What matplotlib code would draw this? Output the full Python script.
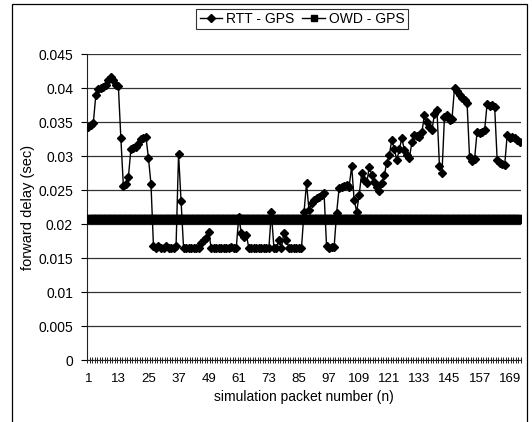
import numpy as np
import matplotlib
matplotlib.use("Agg")
import matplotlib.pyplot as plt
from matplotlib.patches import Rectangle
from matplotlib.lines import Line2D

plt.rcParams['font.family'] = ['Liberation Sans', 'DejaVu Sans']

# RTT - GPS forward delay (sec), packets 1..173
rtt_gps = [
    0.0343, 0.0345, 0.0348, 0.0389, 0.0398, 0.0400, 0.0402, 0.0405, 0.0412, 0.0416,
    0.0412, 0.0405, 0.0403, 0.0326, 0.0256, 0.0259, 0.0269, 0.0310, 0.0312, 0.0313,
    0.0318, 0.0325, 0.0327, 0.0328, 0.0297, 0.0259, 0.0167, 0.0164, 0.0167, 0.0164,
    0.0164, 0.0168, 0.0165, 0.0164, 0.0164, 0.0168, 0.0303, 0.0234, 0.0164, 0.0164,
    0.0164, 0.0164, 0.0164, 0.0164, 0.0164, 0.0172, 0.0176, 0.0180, 0.0188, 0.0165,
    0.0165, 0.0165, 0.0165, 0.0165, 0.0165, 0.0165, 0.0165, 0.0166, 0.0165, 0.0165,
    0.0211, 0.0187, 0.0181, 0.0184, 0.0165, 0.0165, 0.0165, 0.0165, 0.0165, 0.0165,
    0.0165, 0.0165, 0.0165, 0.0217, 0.0165, 0.0165, 0.0176, 0.0165, 0.0187, 0.0176,
    0.0165, 0.0165, 0.0165, 0.0165, 0.0165, 0.0165, 0.0217, 0.0260, 0.0220, 0.0231,
    0.0235, 0.0238, 0.0240, 0.0243, 0.0245, 0.0167, 0.0165, 0.0166, 0.0166, 0.0216,
    0.0253, 0.0255, 0.0256, 0.0257, 0.0255, 0.0285, 0.0235, 0.0218, 0.0243, 0.0275,
    0.0265, 0.0260, 0.0284, 0.0272, 0.0262, 0.0255, 0.0248, 0.0260, 0.0272, 0.0290,
    0.0301, 0.0324, 0.0310, 0.0294, 0.0310, 0.0326, 0.0309, 0.0302, 0.0297, 0.0320,
    0.0331, 0.0330, 0.0328, 0.0335, 0.0360, 0.0350, 0.0343, 0.0338, 0.0362, 0.0368,
    0.0285, 0.0275, 0.0358, 0.0360, 0.0353, 0.0355, 0.0400, 0.0395, 0.0390, 0.0385,
    0.0382, 0.0378, 0.0298, 0.0292, 0.0296, 0.0336, 0.0334, 0.0336, 0.0338, 0.0377,
    0.0373, 0.0375, 0.0372, 0.0294, 0.0290, 0.0288, 0.0287, 0.0331, 0.0326, 0.0328,
    0.0326, 0.0323, 0.0321,
]
owd_gps_value = 0.0207
owd_gps = [owd_gps_value] * len(rtt_gps)
packets = list(range(1, len(rtt_gps) + 1))
x_tick_labels = [1, 13, 25, 37, 49, 61, 73, 85, 97, 109, 121, 133, 145, 157, 169]
y_ticks = [0, 0.005, 0.01, 0.015, 0.02, 0.025, 0.03, 0.035, 0.04, 0.045]

W, H = 532, 422
fig = plt.figure(figsize=(W / 100, H / 100), dpi=100)
ax = fig.add_axes([87 / W, (H - 360) / H, (521 - 87) / W, (360 - 54) / H])

ax.plot(packets, owd_gps, color='black', lw=3.0, marker='s', ms=5.5,
        zorder=3)
ax.plot(packets, rtt_gps, color='black', lw=1.0, marker='D', ms=3.8,
        zorder=4)

ax.set_xlim(0.5, len(packets) + 0.5)
ax.set_ylim(0, 0.045)
ax.set_yticks(y_ticks)
ax.set_yticklabels(['0' if v == 0 else f'{v:g}' for v in y_ticks], fontsize=10)
ax.set_xticks(x_tick_labels)
ax.set_xticklabels([str(v) for v in x_tick_labels], fontsize=9.5)
ax.tick_params(axis='x', length=0, pad=9)
ax.set_xticks(np.arange(0.5, len(packets) + 1, 1.0), minor=True)
ax.tick_params(axis='x', which='minor', length=4, direction='inout', width=0.6)
ax.tick_params(axis='y', length=4, direction='out', width=0.8, pad=6)

ax.grid(axis='y', color='#333333', lw=0.9)
ax.set_axisbelow(True)
for s in ['top', 'right']:
    ax.spines[s].set_visible(False)
ax.spines['left'].set_color('#222222')
ax.spines['bottom'].set_color('#222222')

ax.set_ylabel('forward delay (sec)', fontsize=10.5, labelpad=2)
ax.set_xlabel('simulation packet number (n)', fontsize=10, labelpad=4)

handles = [
    Line2D([], [], color='black', lw=1.0, marker='D', ms=3.8),
    Line2D([], [], color='black', lw=1.0, marker='s', ms=4.5),
]
leg = fig.legend(handles, ['RTT - GPS', 'OWD - GPS'], loc='center',
                 bbox_to_anchor=(302 / W, (H - 19) / H), ncol=2, fontsize=10,
                 frameon=True, fancybox=False, edgecolor='black',
                 handlelength=1.6, handletextpad=0.3, columnspacing=0.6,
                 borderpad=0.25)
leg.get_frame().set_linewidth(0.8)

fig.patches.append(Rectangle((12 / W, -0.05), (527 - 12) / W, 1.05 - 4 / H,
                             transform=fig.transFigure, fill=False,
                             edgecolor='black', lw=0.9))

fig.savefig('out.png', dpi=100)
